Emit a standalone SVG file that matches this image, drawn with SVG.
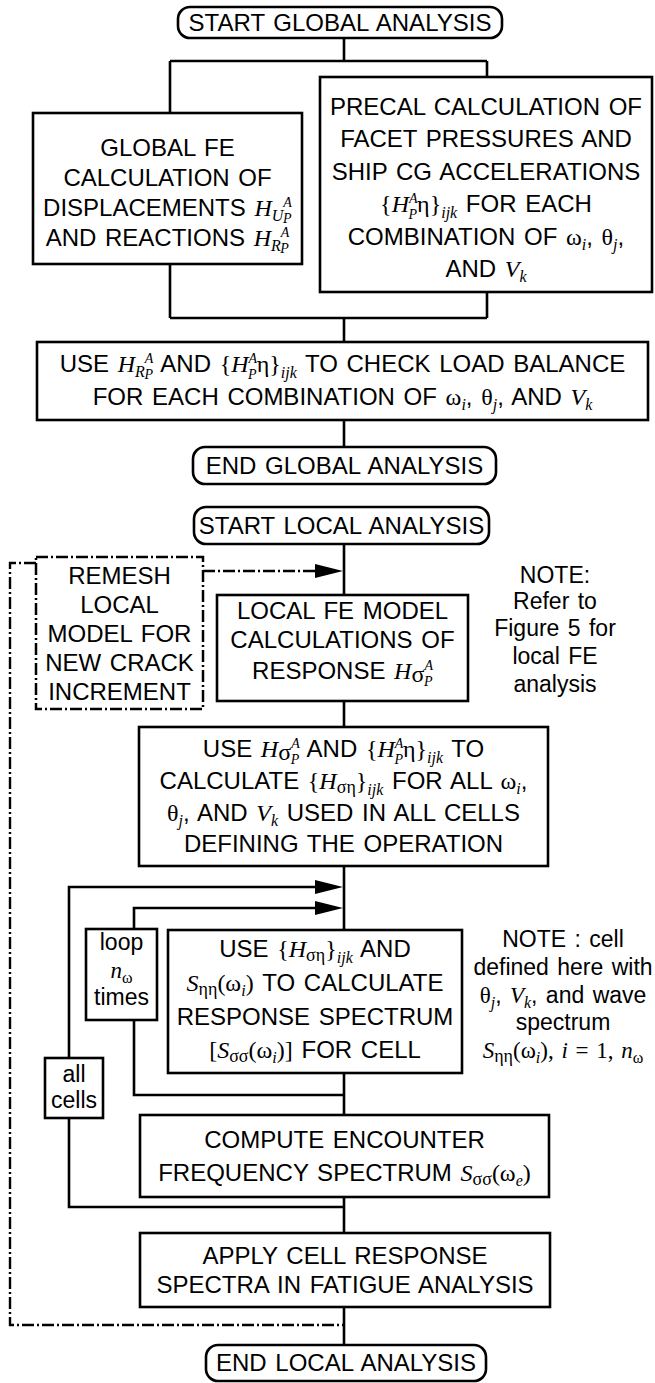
<svg xmlns="http://www.w3.org/2000/svg" width="655" height="1383" viewBox="0 0 655 1383">
<defs>
<style>
.b{fill:#fff;stroke:#000;stroke-width:2.6}
.bd{fill:#fff;stroke:#000;stroke-width:2.5;stroke-dasharray:12 3 2 3}
.c{fill:none;stroke:#000;stroke-width:2.6}
.cd{fill:none;stroke:#000;stroke-width:2.4;stroke-dasharray:12 3 2 3}
.t{font-family:"Liberation Sans",Arial,sans-serif;font-size:24px;text-anchor:middle;fill:#000;word-spacing:2px}
.l{font-size:23px}
.m{font-family:"Liberation Serif","Times New Roman",serif;font-style:italic}
.g{font-family:"Liberation Serif","Times New Roman",serif;font-style:normal}
.s{font-size:16px}
.x{font-size:14px}
.s2{font-size:18px}
</style>
<marker id="ah" markerUnits="userSpaceOnUse" markerWidth="28" markerHeight="14" refX="0" refY="7" orient="auto"><path d="M0,0 L28,7 L0,14 Z" fill="#000"/></marker>
</defs>
<rect width="655" height="1383" fill="#fff"/>

<g id="connectors">
<path class="c" d="M344,38 V61 M170,61 H487 M170,61 V113 M487,61 V77"/>
<path class="c" d="M170,264 V318 M487,292 V318 M170,318 H487 M344,318 V342"/>
<path class="c" d="M344,420 V447"/>
<path class="c" d="M344,544 V595"/>
<path class="cd" d="M203,571 H315" marker-end="url(#ah)"/>
<path class="cd" d="M36,563 H10 V1325 H343"/>
<path class="c" d="M344,701 V727"/>
<path class="c" d="M344,866 V930"/>
<path class="c" d="M69,1058 V887 H315" marker-end="url(#ah)"/>
<path class="c" d="M134,929 V908 H315" marker-end="url(#ah)"/>
<path class="c" d="M134,1020 V1095 H344"/>
<path class="c" d="M344,1073 V1115"/>
<path class="c" d="M344,1197 V1233 M69,1118 V1207 H344"/>
<path class="c" d="M344,1307 V1345"/>
</g>

<g id="start-global">
<rect class="b" x="178" y="7" width="324" height="31" rx="12"/>
<text class="t" x="340" y="31">START GLOBAL ANALYSIS</text>
</g>

<g id="global-fe">
<rect class="b" x="33" y="113" width="269" height="151"/>
<text class="t" x="167.5" y="156">GLOBAL FE</text>
<text class="t" x="167.5" y="186">CALCULATION OF</text>
<text class="t" x="167.5" y="216">DISPLACEMENTS <tspan class="m">H</tspan><tspan class="m s" dy="5">U</tspan><tspan class="m x" dy="-14">A</tspan><tspan class="m x" dx="-9" dy="16">P</tspan></text>
<text class="t" x="167.5" y="246">AND REACTIONS <tspan class="m">H</tspan><tspan class="m s" dy="5">R</tspan><tspan class="m x" dy="-14">A</tspan><tspan class="m x" dx="-9" dy="16">P</tspan></text>
</g>

<g id="precal">
<rect class="b" x="320" y="77" width="332" height="215"/>
<text class="t" x="486" y="115">PRECAL CALCULATION OF</text>
<text class="t" x="486" y="147">FACET PRESSURES  AND</text>
<text class="t" x="486" y="180">SHIP CG ACCELERATIONS</text>
<text class="t" x="486" y="212"><tspan class="g">{</tspan><tspan class="m">H</tspan><tspan class="m x" dy="-9">A</tspan><tspan class="m x" dx="-9" dy="16">P</tspan><tspan class="g" dy="-7">η}</tspan><tspan class="m s" dy="6">ijk</tspan><tspan dy="-6">  FOR EACH</tspan></text>
<text class="t" x="486" y="245">COMBINATION  OF <tspan class="g">ω</tspan><tspan class="m s" dy="5">i</tspan><tspan dy="-5">, </tspan><tspan class="g">θ</tspan><tspan class="m s" dy="5">j</tspan><tspan dy="-5">,</tspan></text>
<text class="t" x="486" y="277">AND <tspan class="m">V</tspan><tspan class="m s" dy="5">k</tspan></text>
</g>

<g id="load-balance">
<rect class="b" x="37" y="342" width="611" height="78"/>
<text class="t" x="342.5" y="372">USE <tspan class="m">H</tspan><tspan class="m s" dy="5">R</tspan><tspan class="m x" dy="-14">A</tspan><tspan class="m x" dx="-9" dy="16">P</tspan><tspan dy="-7"> AND </tspan><tspan class="g">{</tspan><tspan class="m">H</tspan><tspan class="m x" dy="-9">A</tspan><tspan class="m x" dx="-9" dy="16">P</tspan><tspan class="g" dy="-7">η}</tspan><tspan class="m s" dy="6">ijk</tspan><tspan dy="-6"> TO CHECK LOAD BALANCE</tspan></text>
<text class="t" x="342.5" y="405">FOR  EACH COMBINATION OF <tspan class="g">ω</tspan><tspan class="m s" dy="5">i</tspan><tspan dy="-5">, </tspan><tspan class="g">θ</tspan><tspan class="m s" dy="5">j</tspan><tspan dy="-5">, AND </tspan><tspan class="m">V</tspan><tspan class="m s" dy="5">k</tspan></text>
</g>

<g id="end-global">
<rect class="b" x="193" y="447" width="303" height="37" rx="12"/>
<text class="t" x="344.5" y="474">END GLOBAL ANALYSIS</text>
</g>

<g id="start-local">
<rect class="b" x="194" y="507" width="295" height="37" rx="12"/>
<text class="t" x="341.5" y="534">START LOCAL ANALYSIS</text>
</g>

<g id="remesh">
<rect class="bd" x="36" y="557" width="167" height="152"/>
<text class="t" x="119.5" y="584">REMESH</text>
<text class="t" x="119.5" y="613">LOCAL</text>
<text class="t" x="119.5" y="642">MODEL FOR</text>
<text class="t" x="119.5" y="671">NEW CRACK</text>
<text class="t" x="119.5" y="700">INCREMENT</text>
</g>

<g id="note1">
<text class="t l" x="555" y="583">NOTE:</text>
<text class="t l" x="555" y="609">Refer to</text>
<text class="t l" x="555" y="636">Figure 5 for</text>
<text class="t l" x="555" y="664">local FE</text>
<text class="t l" x="555" y="692">analysis</text>
</g>

<g id="local-fe">
<rect class="b" x="217" y="595" width="251" height="106"/>
<text class="t" x="342.5" y="619">LOCAL FE MODEL</text>
<text class="t" x="342.5" y="648">CALCULATIONS OF</text>
<text class="t" x="342.5" y="679">RESPONSE <tspan class="m">H</tspan><tspan class="g" dy="3">σ</tspan><tspan class="m x" dy="-12">A</tspan><tspan class="m x" dx="-9" dy="16">P</tspan></text>
</g>

<g id="calc-h">
<rect class="b" x="139" y="727" width="409" height="139"/>
<text class="t" x="343.5" y="757">USE <tspan class="m">H</tspan><tspan class="g" dy="3">σ</tspan><tspan class="m x" dy="-12">A</tspan><tspan class="m x" dx="-9" dy="16">P</tspan><tspan dy="-7"> AND </tspan><tspan class="g">{</tspan><tspan class="m">H</tspan><tspan class="m x" dy="-9">A</tspan><tspan class="m x" dx="-9" dy="16">P</tspan><tspan class="g" dy="-7">η}</tspan><tspan class="m s" dy="6">ijk</tspan><tspan dy="-6"> TO</tspan></text>
<text class="t" x="343.5" y="789">CALCULATE <tspan class="g">{</tspan><tspan class="m">H</tspan><tspan class="g s2" dy="4">ση</tspan><tspan class="g" dy="-4">}</tspan><tspan class="m s" dy="6">ijk</tspan><tspan dy="-6"> FOR ALL </tspan><tspan class="g">ω</tspan><tspan class="m s" dy="5">i</tspan><tspan dy="-5">,</tspan></text>
<text class="t" x="343.5" y="821"><tspan class="g">θ</tspan><tspan class="m s" dy="5">j</tspan><tspan dy="-5">, AND </tspan><tspan class="m">V</tspan><tspan class="m s" dy="5">k</tspan><tspan dy="-5"> USED IN ALL CELLS</tspan></text>
<text class="t" x="343.5" y="852">DEFINING THE OPERATION</text>
</g>

<g id="loop">
<rect class="b" x="86" y="929" width="71" height="91"/>
<text class="t l" x="121.5" y="950">loop</text>
<text class="t l" x="121.5" y="978"><tspan class="m">n</tspan><tspan class="g s" dy="5">ω</tspan></text>
<text class="t l" x="121.5" y="1005">times</text>
</g>

<g id="response">
<rect class="b" x="168" y="930" width="294" height="143"/>
<text class="t" x="315" y="957">USE <tspan class="g">{</tspan><tspan class="m">H</tspan><tspan class="g s2" dy="4">ση</tspan><tspan class="g" dy="-4">}</tspan><tspan class="m s" dy="6">ijk</tspan><tspan dy="-6">  AND</tspan></text>
<text class="t" x="315" y="991"><tspan class="m">S</tspan><tspan class="g s2" dy="4">ηη</tspan><tspan class="g" dy="-4">(ω</tspan><tspan class="m s" dy="5">i</tspan><tspan class="g" dy="-5">)</tspan> TO CALCULATE</text>
<text class="t" x="315" y="1025">RESPONSE SPECTRUM</text>
<text class="t" x="315" y="1058"><tspan class="g">[</tspan><tspan class="m">S</tspan><tspan class="g s2" dy="4">σσ</tspan><tspan class="g" dy="-4">(ω</tspan><tspan class="m s" dy="5">i</tspan><tspan class="g" dy="-5">)]</tspan>  FOR CELL</text>
</g>

<g id="note2">
<text class="t l" x="563" y="947">NOTE : cell</text>
<text class="t l" x="563" y="975">defined here with</text>
<text class="t l" x="563" y="1003"><tspan class="g">θ</tspan><tspan class="m s" dy="5">j</tspan><tspan dy="-5">, </tspan><tspan class="m">V</tspan><tspan class="m s" dy="5">k</tspan><tspan dy="-5">, and wave</tspan></text>
<text class="t l" x="563" y="1030">spectrum</text>
<text class="t l" x="563" y="1058"><tspan class="m">S</tspan><tspan class="g s2" dy="4">ηη</tspan><tspan class="g" dy="-4">(ω</tspan><tspan class="m s" dy="5">i</tspan><tspan class="g" dy="-5">),</tspan><tspan class="m"> i</tspan><tspan class="g"> = 1, </tspan><tspan class="m">n</tspan><tspan class="g s" dy="5">ω</tspan></text>
</g>

<g id="all-cells">
<rect class="b" x="45" y="1058" width="58" height="60"/>
<text class="t l" x="74" y="1082">all</text>
<text class="t l" x="74" y="1108">cells</text>
</g>

<g id="compute">
<rect class="b" x="140" y="1115" width="409" height="82"/>
<text class="t" x="344.5" y="1148">COMPUTE ENCOUNTER</text>
<text class="t" x="344.5" y="1181">FREQUENCY SPECTRUM <tspan class="m">S</tspan><tspan class="g s2" dy="4">σσ</tspan><tspan class="g" dy="-4">(ω</tspan><tspan class="m s" dy="5">e</tspan><tspan class="g" dy="-5">)</tspan></text>
</g>

<g id="apply">
<rect class="b" x="140" y="1233" width="410" height="74"/>
<text class="t" x="345" y="1264">APPLY CELL RESPONSE</text>
<text class="t" x="345" y="1293">SPECTRA IN FATIGUE ANALYSIS</text>
</g>

<g id="end-local">
<rect class="b" x="206" y="1345" width="280" height="36" rx="12"/>
<text class="t" x="346" y="1371">END LOCAL ANALYSIS</text>
</g>
</svg>
